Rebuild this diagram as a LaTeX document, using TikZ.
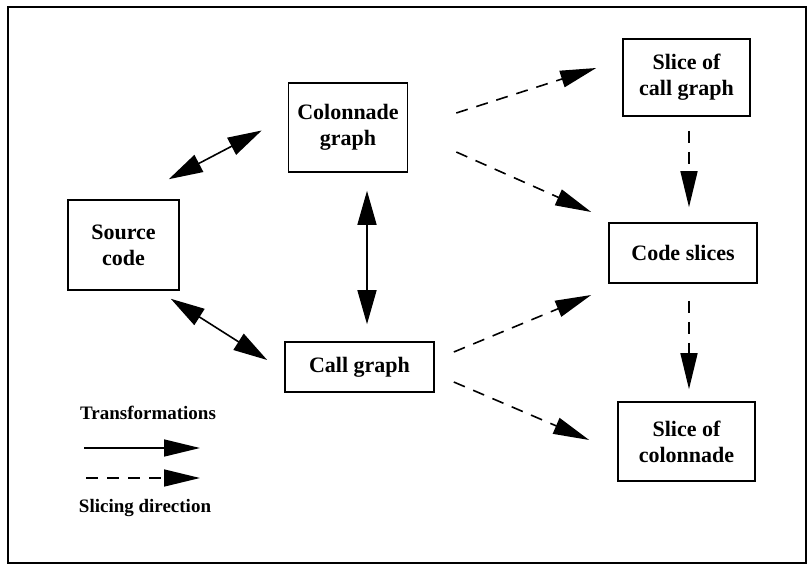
\documentclass[tikz,border=0pt]{standalone}
\usepackage{fontspec}
\setmainfont{Liberation Serif}
\usetikzlibrary{arrows.meta,calc}

\tikzset{
  box/.style={draw, line width=1.6pt, align=center, inner sep=0pt,
              font=\fontsize{22}{26}\selectfont\bfseries},
  legendtext/.style={font=\fontsize{19}{22}\selectfont\bfseries},
  tip/.style={-{Triangle[length=36pt,width=17pt]}},
  twoway/.style={line width=1.6pt, {Triangle[length=34pt,width=19pt]}-{Triangle[length=34pt,width=19pt]}},
  oneway/.style={line width=1.6pt, -{Triangle[length=36pt,width=17pt]}},
  slicing/.style={oneway, dash pattern=on 12pt off 9pt}
}

\begin{document}
\begin{tikzpicture}[x=1pt, y=-1pt]
  \useasboundingbox (0,0) rectangle (808,567);
  % outer frame
  \draw[line width=1.6pt] (8,7) rectangle (806,563);

  % boxes
  \node[box, minimum width=111pt, minimum height=90pt] (src) at (123.5,245) {Source\\code};
  \node[box, minimum width=119pt, minimum height=89pt] (col) at (348,127.5) {Colonnade\\graph};
  \node[box, minimum width=149pt, minimum height=50pt] (call) at (359.5,367) {Call graph};
  \node[box, minimum width=127pt, minimum height=77pt] (scg) at (686.5,77.5) {Slice of\\call graph};
  \node[box, minimum width=148pt, minimum height=60pt] (cs) at (683,253) {Code slices};
  \node[box, minimum width=137pt, minimum height=79pt] (scol) at (686.5,441.5) {Slice of\\colonnade};

  % transformations
  \draw[twoway] ([shift={(-11,-20)}]src.north east) -- ([shift={(-26,3)}]col.west);
  \draw[twoway] ([shift={(19,18)}]col.south) -- ([shift={(7.5,-17)}]call.north);
  \draw[twoway] ([shift={(-9,8)}]src.south east) -- ([shift={(-17,-7)}]call.west);

  % slicing directions
  \draw[slicing] ([shift={(48,-14.5)}]col.east) -- ([shift={(-26,-9.5)}]scg.west);
  \draw[slicing] ([shift={(48,24.5)}]col.east) -- ([shift={(-17,-41)}]cs.west);
  \draw[slicing] ([shift={(19,-15)}]call.east) -- ([shift={(-17,42)}]cs.west);
  \draw[slicing] ([shift={(19,15)}]call.east) -- ([shift={(-28,-1.5)}]scol.west);
  \draw[slicing] ([shift={(2.5,14)}]scg.south) -- ([shift={(6,-15)}]cs.north);
  \draw[slicing] ([shift={(6,17)}]cs.south) -- ([shift={(2.5,-12)}]scol.north);

  % legend
  \node[legendtext] (ltrans) at (148,413) {Transformations};
  \coordinate (ta) at (84,448);
  \coordinate (tb) at (200,448);
  \draw[oneway] (ta) -- (tb);
  \coordinate (sa) at (86,478);
  \coordinate (sb) at (200,478);
  \draw[slicing] (sa) -- (sb);
  \node[legendtext] (lslice) at (145,508) {Slicing direction};
\end{tikzpicture}
\end{document}
